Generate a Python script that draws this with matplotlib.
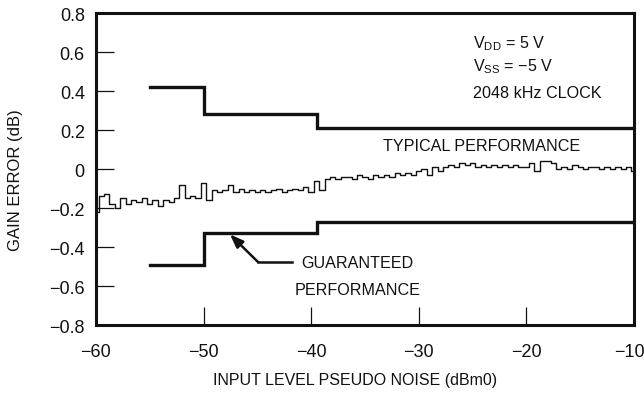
import numpy as np
import matplotlib
matplotlib.use("Agg")
import matplotlib.pyplot as plt
import matplotlib.transforms as mtransforms

FONT = ["Liberation Sans", "DejaVu Sans"]
plt.rcParams['font.family'] = FONT
plt.rcParams['mathtext.fontset'] = 'custom'
plt.rcParams['mathtext.rm'] = 'Liberation Sans'
plt.rcParams['mathtext.it'] = 'Liberation Sans'

# typical gain error trace (dB), sampled every 0.5 dBm0 from -60 to -10
typical = [
    -0.22, -0.14, -0.13, -0.18, -0.20, -0.15, -0.18, -0.16, -0.17, -0.15,
    -0.18, -0.16, -0.19, -0.16, -0.17, -0.15, -0.08, -0.15, -0.14, -0.15,
    -0.07, -0.16, -0.11, -0.12, -0.11, -0.08, -0.12, -0.10, -0.12, -0.11,
    -0.12, -0.11, -0.12, -0.11, -0.10, -0.12, -0.11, -0.10, -0.11, -0.09,
    -0.12, -0.06, -0.11, -0.05, -0.04, -0.05, -0.04, -0.04, -0.05, -0.03,
    -0.04, -0.05, -0.03, -0.04, -0.03, -0.04, -0.02, -0.03, -0.02, -0.03,
    -0.01, 0.00, -0.03, 0.01, -0.01, 0.01, 0.02, 0.01, 0.03, 0.02,
    0.03, 0.01, 0.02, 0.01, 0.02, 0.01, 0.02, 0.01, 0.02, 0.01,
    0.01, 0.03, -0.01, 0.04, 0.04, 0.03, 0.00, 0.01, 0.00, 0.02,
    0.01, 0.00, 0.01, 0.01, 0.00, 0.01, 0.00, 0.01, 0.00, 0.01,
    -0.01,
]
x_start, x_end = -60, -10

# guaranteed limits (step lines)
limit_x = [-55, -50, -50, -39.5, -39.5, -10]
upper_y = [0.42, 0.42, 0.28, 0.28, 0.21, 0.21]
lower_y = [-0.49, -0.49, -0.33, -0.33, -0.27, -0.27]

xticks = [-60, -50, -40, -30, -20, -10]
yticks = [-0.8, -0.6, -0.4, -0.2, 0, 0.2, 0.4, 0.6, 0.8]
ytick_labels = ["\u22120.8", "\u22120.6", "\u22120.4", "\u22120.2", "0", "0.2", "0.4", "0.6", "0.8"]
xtick_labels = ["\u221260", "\u221250", "\u221240", "\u221230", "\u221220", "\u221210"]

fig = plt.figure(figsize=(6.44, 4.02), dpi=100)
ax = fig.add_axes([0.149, 0.189, 0.8355, 0.776])

xs = np.linspace(x_start, x_end, len(typical))
ax.plot(xs, typical, color="#111111", lw=1.0, drawstyle="steps-mid")
ax.plot(limit_x, upper_y, color="#111111", lw=2.4, solid_joinstyle="miter")
ax.plot(limit_x, lower_y, color="#111111", lw=2.4, solid_joinstyle="miter")

ax.set_xlim(-60, -10)
ax.set_ylim(-0.8, 0.8)
ax.set_xticks(xticks)
ax.set_xticklabels(xtick_labels)
ax.set_yticks(yticks)
ax.set_yticklabels(ytick_labels)
ax.tick_params(direction="in", length=13, width=0.9, labelsize=13,
               top=False, right=False, colors="#111111")
ax.tick_params(axis="x", pad=13)
ax.tick_params(axis="y", pad=8)
for s in ax.spines.values():
    s.set_linewidth(2.2)
    s.set_color("#111111")

# nudge last x tick label so it stays inside the figure
last = ax.get_xticklabels()[-1]
last.set_transform(last.get_transform() + mtransforms.ScaledTranslation(-5 / 100, 0, fig.dpi_scale_trans))

ax.set_xlabel("INPUT LEVEL PSEUDO NOISE (dBm0)", fontsize=11.5, color="#111111")
ax.xaxis.set_label_coords(0.482, -0.152)
ax.set_ylabel("GAIN ERROR (dB)", fontsize=12, color="#111111")
ax.yaxis.set_label_coords(-0.136, 0.468)

tc = "#111111"
fs = 11.6
ax.text(-25.0, 0.65, r"V$_{\rm DD}$ = 5 V", fontsize=fs, va="center", ha="left", color=tc)
ax.text(-25.0, 0.53, "V$_{\\rm SS}$ = \u22125 V", fontsize=fs, va="center", ha="left", color=tc)
ax.text(-25.0, 0.395, "2048 kHz CLOCK", fontsize=fs, va="center", ha="left", color=tc)
ax.text(-24.13, 0.12, "TYPICAL PERFORMANCE", fontsize=fs, va="center", ha="center", color=tc)
ax.text(-35.7, -0.479, "GUARANTEED", fontsize=fs, va="center", ha="center", color=tc)
ax.text(-35.7, -0.618, "PERFORMANCE", fontsize=fs, va="center", ha="center", color=tc)

ax.plot([-41.8, -44.94], [-0.477, -0.477], color=tc, lw=1.8)
ax.annotate("", xy=(-47.55, -0.335), xytext=(-44.94, -0.477),
            arrowprops=dict(arrowstyle="-|>,head_length=0.8,head_width=0.3",
                            color=tc, lw=1.8, shrinkA=0, shrinkB=0))

fig.savefig("out.png", dpi=100)
